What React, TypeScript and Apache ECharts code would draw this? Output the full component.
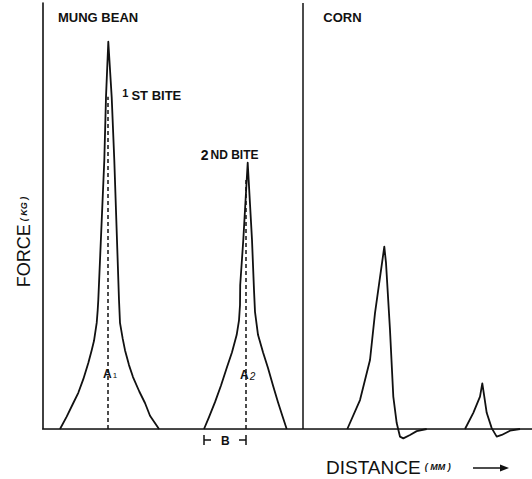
import React, { useEffect, useRef } from "react";
import * as echarts from "echarts";

// distance in mm (x) and force in kg (y)
const panelTitles = ["MUNG BEAN", "CORN"];
const panelDivider = 25.93;

const mungBite1: [number, number][] = [
  [1.7, 0], [2.37, 0.29], [3.03, 0.61], [3.53, 0.85], [4.03, 1.17], [4.53, 1.55],
  [4.87, 1.85], [5.1, 2.07], [5.37, 2.49], [5.47, 2.79], [5.53, 3.03], [6.13, 6.31],
  [6.3, 7.79], [6.53, 9.09], [6.87, 7.79], [7.13, 6.31], [7.6, 3.03], [7.7, 2.49],
  [7.97, 2.12], [8.2, 1.85], [8.6, 1.5], [9.0, 1.22], [9.63, 0.88], [10.2, 0.61],
  [10.7, 0.31], [11.6, 0],
];
const mungBite2: [number, number][] = [
  [16.1, 0], [16.6, 0.28], [17.2, 0.63], [17.8, 1.02], [18.37, 1.43], [18.9, 1.8],
  [19.37, 2.21], [19.6, 2.55], [19.7, 2.91], [19.72, 3.38], [20.03, 4.44], [20.47, 6.25],
  [20.9, 4.44], [21.1, 3.26], [21.2, 2.75], [21.5, 2.21], [22.0, 1.8], [22.5, 1.43],
  [23.0, 1.02], [23.5, 0.63], [23.95, 0.3], [24.37, 0],
];
const cornBite1: [number, number][] = [
  [30.43, 0], [31.7, 0.68], [32.7, 1.62], [33.2, 2.72], [34.13, 4.28], [34.3, 3.9],
  [34.7, 2.32], [35.03, 0.76], [35.37, 0.14], [35.7, -0.18], [36.03, -0.22], [36.7, -0.14],
  [37.37, -0.05], [38.37, 0],
];
const cornBite2: [number, number][] = [
  [42.2, 0], [43.03, 0.38], [43.7, 0.76], [43.93, 1.07], [44.13, 0.76], [44.37, 0.38],
  [44.87, 0.02], [45.37, -0.18], [45.87, -0.14], [46.7, -0.04], [47.7, 0],
];
const a1Line: [number, number][] = [[6.5, 0], [6.5, 7.8]];
const a2Line: [number, number][] = [[20.3, 0], [20.3, 5.85]];

const FONT = '"Liberation Sans", Arial, Helvetica, sans-serif';
const INK = "#111";

export default function App() {
  const ref = useRef<HTMLDivElement>(null);
  useEffect(() => {
    document.body.style.margin = "0";
    const chart = echarts.init(ref.current!, null, { renderer: "svg" });
    const curve = (data: [number, number][]) => ({
      type: "line",
      data,
      symbol: "none",
      clip: false,
      smooth: false,
      lineStyle: { color: INK, width: 1.8, join: "round" },
    });
    const dashed = (data: [number, number][]) => ({
      type: "line",
      data,
      symbol: "none",
      lineStyle: { color: INK, width: 1.5, type: [4, 3] },
    });
    chart.setOption({
      animation: false,
      backgroundColor: "#fff",
      grid: { left: 43, right: 0, top: 3, bottom: 50, show: false },
      xAxis: [
        {
          type: "value", min: 0, max: 48.9, position: "bottom",
          axisLine: { show: true, onZero: false, lineStyle: { color: INK, width: 1.6 } },
          axisTick: { show: false }, axisLabel: { show: false }, splitLine: { show: false },
        },
        {
          type: "value", min: 0, max: 48.9, position: "top",
          axisLine: { show: true, lineStyle: { color: "#444", width: 1 } },
          axisTick: { show: false }, axisLabel: { show: false }, splitLine: { show: false },
        },
      ],
      yAxis: {
        type: "value", min: 0, max: 10,
        axisLine: { show: true, lineStyle: { color: INK, width: 1.6 } },
        axisTick: { show: false }, axisLabel: { show: false }, splitLine: { show: false },
      },
      series: [
        {
          ...curve(mungBite1),
          markLine: {
            silent: true, symbol: "none", label: { show: false },
            lineStyle: { color: INK, width: 1.5, type: "solid" },
            data: [{ xAxis: panelDivider }],
          },
        },
        curve(mungBite2),
        curve(cornBite1),
        curve(cornBite2),
        dashed(a1Line),
        dashed(a2Line),
      ],
    });

    const px = (p: [number, number]) => chart.convertToPixel({ gridIndex: 0 }, p) as number[];
    const a1 = px(a1Line[0]);
    const a2 = px(a2Line[0]);
    const b0 = px(mungBite2[0]);
    const pk1 = px([6.53, 9.09]);
    const pk2 = px([20.47, 6.25]);
    const left = px([0, 0]);
    const div = px([panelDivider, 0]);
    const lw = { stroke: INK, lineWidth: 1.5 };
    const rs = (o: any) => ({ fontFamily: FONT, fill: INK, color: INK, ...o });
    const txt = (x: number, y: number, text: string, size: number, extra: any = {}) => ({
      type: "text", x, y,
      style: {
        text, fill: INK, fontFamily: FONT, fontSize: size, fontWeight: "bold",
        align: "left", verticalAlign: "middle", ...extra,
      },
    });
    chart.setOption({
      graphic: [
        txt(left[0] + 15, 17, panelTitles[0], 13),
        txt(div[0] + 21, 17, panelTitles[1], 13),
        txt(pk1[0] + 14, 95, "{s|1}{m|ST BITE}", 13, {
          rich: {
            s: rs({ fontSize: 11, fontWeight: "bold", padding: [0, 3, 4, 0] }),
            m: rs({ fontSize: 13, fontWeight: "bold" }),
          },
        }),
        txt(pk2[0] - 47, 155, "{b|2}{m|ND BITE}", 12, {
          rich: {
            b: rs({ fontSize: 14, fontWeight: "bold", padding: [0, 2, 0, 0] }),
            m: rs({ fontSize: 12, fontWeight: "bold" }),
          },
        }),
        txt(a1[0] - 5, 374, "{a|A}{s|1}", 12, {
          rich: { a: rs({ fontSize: 12, fontWeight: "bold" }), s: rs({ fontSize: 8, padding: [3, 0, 0, 1] }) },
        }),
        txt(a2[0] - 6, 375, "{a|A}{s|2}", 12, {
          rich: { a: rs({ fontSize: 12, fontWeight: "bold" }), s: rs({ fontSize: 10, fontStyle: "italic", padding: [3, 0, 0, 1] }) },
        }),
        // B bracket
        { type: "line", shape: { x1: b0[0], y1: 435, x2: b0[0], y2: 445 }, style: lw },
        { type: "line", shape: { x1: b0[0], y1: 440, x2: b0[0] + 7, y2: 440 }, style: lw },
        txt((b0[0] + a2[0]) / 2 - 4, 441, "B", 12),
        { type: "line", shape: { x1: a2[0] - 7, y1: 440, x2: a2[0], y2: 440 }, style: lw },
        { type: "line", shape: { x1: a2[0], y1: 435, x2: a2[0], y2: 445 }, style: lw },
        // axis titles
        {
          type: "text", x: 24, y: 242, rotation: Math.PI / 2,
          style: {
            text: "{a|FORCE}{b|( KG )}", fill: INK, align: "center", verticalAlign: "middle",
            rich: {
              a: rs({ fontSize: 18 }),
              b: rs({ fontSize: 9, fontStyle: "italic", fontWeight: "bold", padding: [0, 0, 0, 3] }),
            },
          },
        },
        {
          type: "text", x: 326, y: 467,
          style: {
            text: "{a|DISTANCE}{b|( MM )}", fill: INK, align: "left", verticalAlign: "middle",
            rich: {
              a: rs({ fontSize: 19 }),
              b: rs({ fontSize: 9, fontStyle: "italic", fontWeight: "bold", padding: [0, 0, 0, 4] }),
            },
          },
        },
        { type: "line", shape: { x1: 473, y1: 468, x2: 503, y2: 468 }, style: lw },
        { type: "polygon", shape: { points: [[509, 468], [500, 464.5], [500, 471.5]] }, style: { fill: INK } },
      ],
    });
    return () => chart.dispose();
  }, []);
  return <div ref={ref} style={{ width: 532, height: 479 }} />;
}
